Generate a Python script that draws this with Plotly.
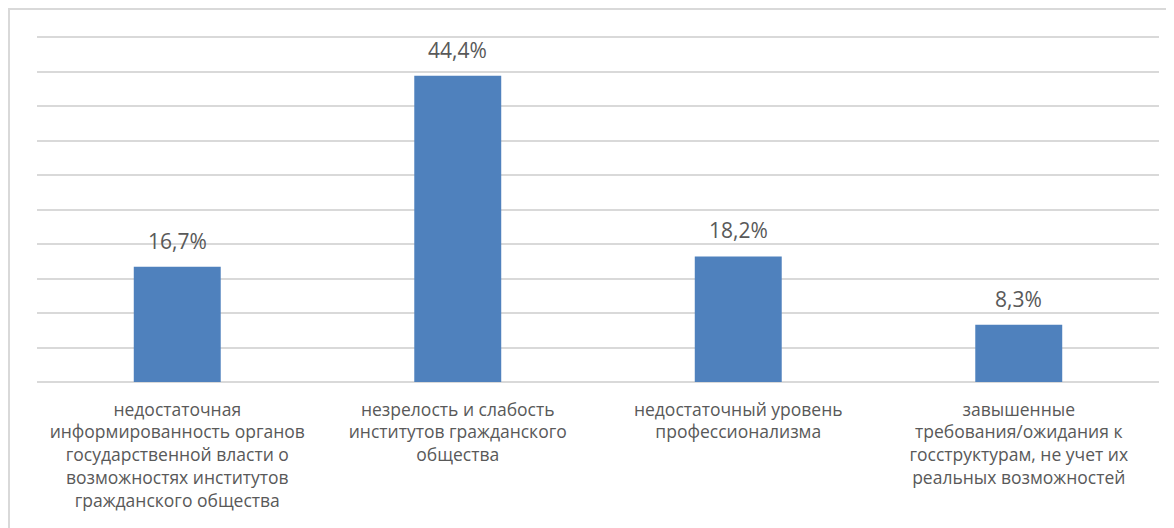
import plotly.graph_objects as go

categories = [
    "недостаточная<br>информированность органов<br>государственной власти о<br>возможностях институтов<br>гражданского общества",
    "незрелость и слабость<br>институтов гражданского<br>общества",
    "недостаточный уровень<br>профессионализма",
    "завышенные<br>требования/ожидания к<br>госструктурам, не учет их<br>реальных возможностей",
]
values = [16.7, 44.4, 18.2, 8.3]
labels = [f"{v:.1f}%".replace(".", ",") for v in values]
grid_vals = [0, 5, 10, 15, 20, 25, 30, 35, 40, 45, 50]

OFF = 8  # browser body margin
PAD = 3  # px of padding so edge gridlines are not clipped
W, H = 1174 - OFF, 528 - OFF
ppu = (382 - 37) / 50.0
L, R = 37 - OFF, 1159 - OFF
T, B = 37 - OFF - PAD, 382 - OFF + PAD
FONT = "'Open Sans', Calibri, sans-serif"
GREY = "#595959"

fig = go.Figure()
fig.add_trace(go.Bar(
    x=list(range(len(categories))), y=values,
    marker=dict(color="#4f81bd", line=dict(width=0)),
    hoverinfo="skip",
))
for i, (v, t) in enumerate(zip(values, labels)):
    fig.add_annotation(x=i, y=v, text=t, showarrow=False, yanchor="bottom",
                       yshift=10, font=dict(family=FONT, size=21, color=GREY))

pw, ph = R - L, B - T
fig.add_shape(type="rect", xref="paper", yref="paper",
              x0=(9 - OFF - L) / pw, x1=(W + 10 - L) / pw,
              y0=(B - (H + 10)) / ph, y1=(B - (9 - OFF)) / ph,
              line=dict(color="#d9d9d9", width=2), fillcolor="rgba(0,0,0,0)")

fig.update_layout(
    width=W, height=H,
    margin=dict(l=L, r=W - R, t=T, b=H - B, autoexpand=False),
    paper_bgcolor="white", plot_bgcolor="white",
    bargap=0.69, showlegend=False,
    font=dict(family=FONT, color=GREY),
)
fig.update_xaxes(tickmode="array", tickvals=list(range(len(categories))),
                 ticktext=categories, range=[-0.5, 3.5], showgrid=False,
                 zeroline=False, showline=False, ticks="", ticklabelstandoff=12,
                 tickfont=dict(family=FONT, size=17.5, color=GREY))
fig.update_yaxes(range=[-PAD / ppu, 50 + PAD / ppu], tickvals=grid_vals,
                 showgrid=True, gridcolor="#d9d9d9",
                 gridwidth=2, zeroline=False, showticklabels=False, showline=False)

fig.write_html("out.html")
